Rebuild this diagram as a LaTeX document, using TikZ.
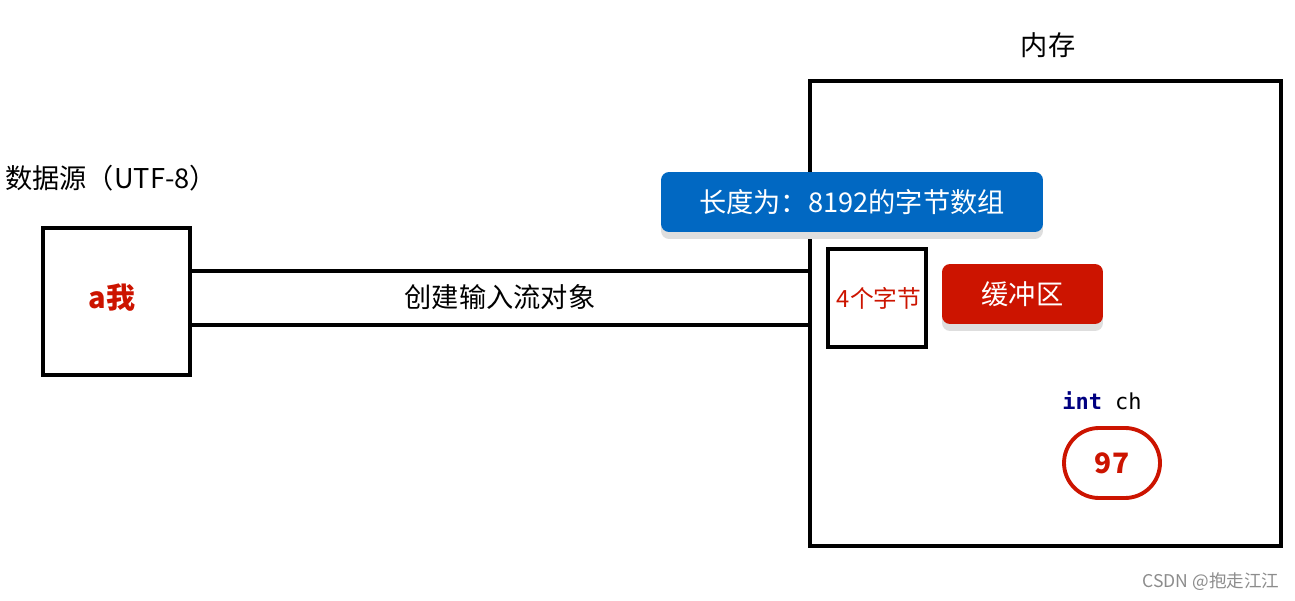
\documentclass[tikz,border=0pt]{standalone}
\usepackage{fontspec}
\setmainfont{Noto Sans CJK SC}
\setmonofont{DejaVu Sans Mono}
\usetikzlibrary{shadows}
\definecolor{arrblue}{HTML}{0168C2}
\definecolor{bufred}{HTML}{CC1400}
\definecolor{kwnavy}{HTML}{000080}
\begin{document}
\begin{tikzpicture}[x=0.02cm, y=-0.02cm,
    box/.style={draw, line width=2.2pt, inner sep=0pt},
    label/.style={inner sep=0pt, font=\fontsize{15.5}{18}\selectfont},
    tag/.style={rounded corners=0.16cm, inner sep=0pt, text=white, minimum height=1.2cm,
        font=\fontsize{15.5}{18}\selectfont,
        drop shadow={shadow xshift=0pt, shadow yshift=-0.14cm, fill=black!13, opacity=1}}]
    \useasboundingbox (0,0) rectangle (1295,601);

    % source and memory
    \node[box, minimum width=2.94cm, minimum height=2.94cm] (src) at (116.5,301.5) {};
    \node[box, minimum width=9.42cm, minimum height=9.3cm] (mem) at (1045.5,313.5) {};
    \node[label] (srclabel) at (111,178) {数据源（UTF-8）};
    \node[label] (memlabel) at (1048,45) {内存};
    \node[inner sep=0pt, text=bufred, font=\fontsize{16.5}{18}\selectfont\bfseries] (chars) at (112,298) {a我};

    % input stream
    \draw[line width=2.2pt] (src.east |- 0,271) -- (mem.west |- 0,271);
    \draw[line width=2.2pt] (src.east |- 0,325) -- (mem.west |- 0,325);
    \node[label] (stream) at (500,297) {创建输入流对象};

    % buffer
    \node[tag, fill=arrblue, minimum width=7.64cm] (array) at (852,202) {长度为：8192的字节数组};
    \node[box, minimum width=1.96cm, minimum height=1.96cm] (bytes) at (877,298) {};
    \node[inner sep=0pt, text=bufred, font=\fontsize{13.5}{16}\selectfont] (bytestext) at (879,298) {4个字节};
    \node[tag, fill=bufred, minimum width=3.22cm] (buffer) at (1022.5,294) {缓冲区};

    % variable
    \node[inner sep=0pt, font=\fontsize{12.5}{15}\ttfamily] (var) at (1102,401) {\textcolor{kwnavy}{\bfseries int} ch};
    \node[draw=bufred, line width=2.2pt, rounded corners=0.7cm, minimum width=1.92cm, minimum height=1.4cm,
        inner sep=0pt, text=bufred, font=\fontsize{16}{18}\selectfont\bfseries] (val) at (1112,463) {97};

    \node[inner sep=0pt, text=black!45, font=\fontsize{10}{12}\selectfont] (mark) at (1211,582) {CSDN @抱走江江};
\end{tikzpicture}
\end{document}
